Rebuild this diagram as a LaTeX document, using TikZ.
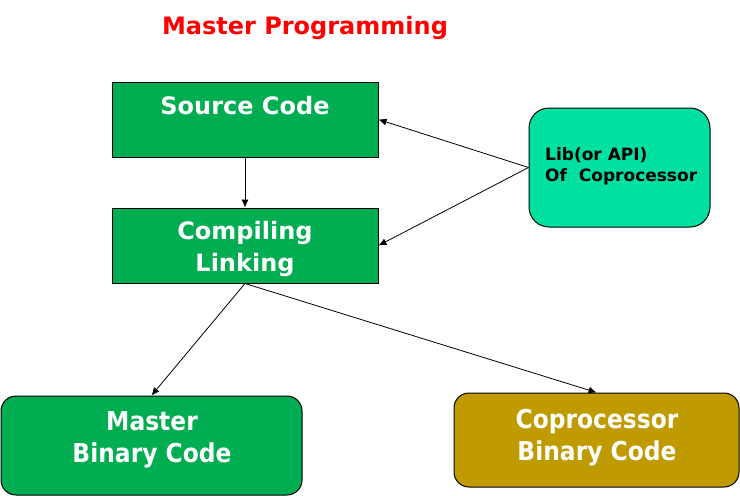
\documentclass[tikz,border=0pt]{standalone}
\usepackage{fontspec}
\setmainfont{DejaVu Sans}
\newfontfamily\condfont{DejaVu Sans Condensed}
\usetikzlibrary{arrows.meta}
\definecolor{boxgreen}{RGB}{0,173,80}
\definecolor{libgreen}{RGB}{0,224,160}
\definecolor{copgold}{RGB}{192,155,0}
\definecolor{titlered}{RGB}{255,0,0}

\begin{document}
\begin{tikzpicture}[x=1pt,y=-1pt,
    box/.style={draw=black, line width=1pt, fill=boxgreen, minimum width=266pt, minimum height=75pt, inner sep=0pt},
    bigtext/.style={text=white, font=\fontsize{24}{32}\selectfont\bfseries, align=center, inner sep=0pt},
    bintext/.style={text=white, font=\condfont\fontsize{26}{32}\selectfont\bfseries, align=center, inner sep=0pt},
    arr/.style={-{Latex[length=8pt,width=7pt]}, line width=0.8pt}
]
    \useasboundingbox (0,0) rectangle (740,496);

    % Title
    \node[text=titlered, font=\fontsize{24}{28}\selectfont\bfseries, inner sep=0pt] (title) at (305,28) {Master Programming};

    % Source and compile boxes
    \node[box] (src) at (245,119.5) {};
    \node[bigtext] (srctext) at (245,106) {Source Code};

    \node[box] (cmp) at (245,245.5) {};
    \node[bigtext] (cmptext) at (245,249) {Compiling\\Linking};

    % Library
    \node[draw=black, line width=1pt, fill=libgreen, rounded corners=20pt, minimum width=181pt, minimum height=119pt, inner sep=0pt] (lib) at (619.5,167.5) {};
    \node[anchor=west, align=left, font=\fontsize{17}{21}\selectfont\bfseries, inner sep=0pt] (libtext) at (545,166.5) {Lib(or API)\\Of~~Coprocessor};

    % Binaries
    \node[draw=black, line width=1pt, fill=boxgreen, rounded corners=15pt, minimum width=301pt, minimum height=99pt, inner sep=0pt] (mbin) at (151.5,445.5) {};
    \node[bintext] (mbintext) at (152,440) {Master\\Binary Code};

    \node[draw=black, line width=1pt, fill=copgold, rounded corners=15pt, minimum width=285pt, minimum height=94pt, inner sep=0pt] (cbin) at (596.5,440) {};
    \node[bintext] (cbintext) at (597,438) {Coprocessor\\Binary Code};

    % Connectors
    \draw[arr] (src.south) -- (cmp.north);
    \draw[arr] (lib.west) -- (src.east);
    \draw[arr] (lib.west) -- (cmp.east);
    \draw[arr] (cmp.south) -- (mbin.north);
    \draw[arr] (cmp.south) -- (cbin.north);
\end{tikzpicture}
\end{document}
